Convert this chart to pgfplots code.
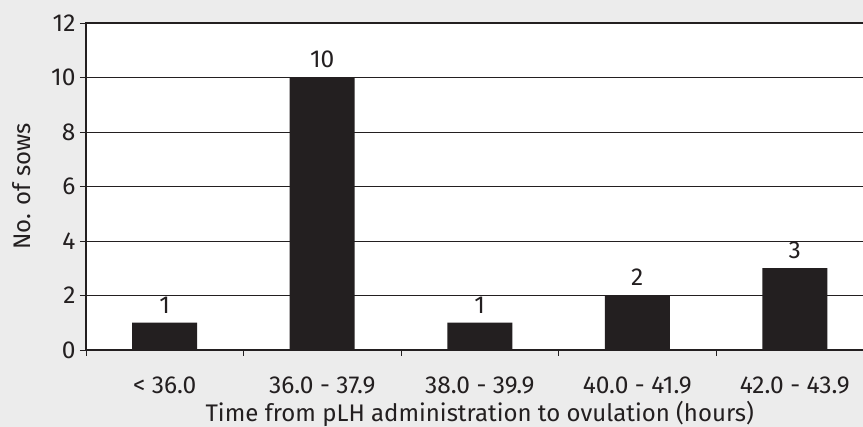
\documentclass[border=0pt]{standalone}
\usepackage{fontspec}
\setmainfont{Fira Sans}
\usepackage{pgfplots}
\pgfplotsset{compat=1.18}
\definecolor{bg}{HTML}{ECECEC}
\definecolor{barc}{HTML}{231F20}
\definecolor{axc}{HTML}{231F20}
\begin{document}
\begin{tikzpicture}
\clip (-86pt,-77pt) rectangle (777pt,350pt);
\fill[bg] (-86pt,-77pt) rectangle (777pt,350pt);
\begin{axis}[
  at={(0pt,0pt)}, anchor=south west,
  scale only axis, width=787.5pt, height=327pt,
  xmin=-0.5, xmax=4.5, ymin=0, ymax=12,
  axis background/.style={fill=white},
  axis line style={line width=2pt, draw=axc},
  ytick={0,2,...,12},
  ymajorgrids, grid style={line width=0.9pt, draw=axc},
  xtick={0,...,4},
  xticklabels={{< 36.0},{36.0 - 37.9},{38.0 - 39.9},{40.0 - 41.9},{42.0 - 43.9}},
  minor xtick={-0.5,0.5,...,4.5},
  major x tick style={draw=none},
  minor x tick style={line width=0.8pt, draw=axc},
  minor tick length=6pt,
  ytick style={line width=0.8pt, draw=axc},
  major tick length=6pt,
  tick align=outside,
  tick pos=left,
  /pgf/number format/assume math mode=true,
  ticklabel style={font=\fontsize{24.5}{28}\selectfont, text=axc},
  yticklabel style={xshift=-1pt},
  xticklabel style={yshift=-17pt},
  xlabel={Time from pLH administration to ovulation (hours)},
  ylabel={No. of sows},
  label style={font=\fontsize{24}{28}\selectfont, text=axc},
  xlabel style={inner sep=1pt, yshift=-3pt},
  ylabel style={yshift=14pt},
  nodes near coords,
  every node near coord/.append style={font=\fontsize{24.5}{28}\selectfont, text=axc, yshift=6pt},
]
\addplot[ybar, bar width=65pt, fill=barc, draw=none] coordinates {(0,1) (1,10) (2,1) (3,2) (4,3)};
\end{axis}
\end{tikzpicture}
\end{document}
